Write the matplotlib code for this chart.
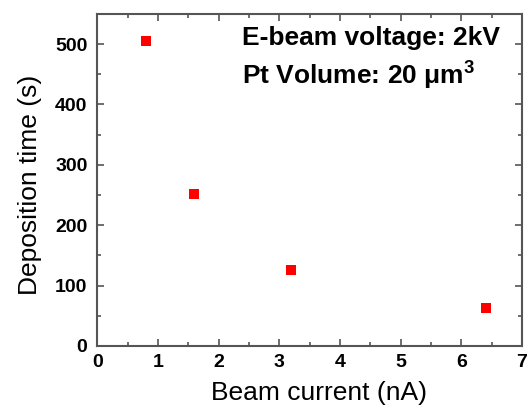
import matplotlib
matplotlib.use("Agg")
import matplotlib.pyplot as plt
from matplotlib.ticker import MultipleLocator

beam_current = [0.8, 1.6, 3.2, 6.4]
deposition_time = [505, 252, 126, 63]

plt.rcParams["font.family"] = ["Liberation Sans", "DejaVu Sans"]
plt.rcParams["mathtext.fontset"] = "custom"
plt.rcParams["mathtext.rm"] = "Liberation Sans"
plt.rcParams["mathtext.bf"] = "Liberation Sans:bold"

fig = plt.figure(figsize=(5.31, 4.08), dpi=100)
ax = fig.add_axes([0.183, 0.152, 0.800, 0.814])

ax.plot(beam_current, deposition_time, "s", color="#ff0000", markersize=7, markeredgewidth=0)

ax.set_xlim(0, 7)
ax.set_ylim(0, 550)
ax.xaxis.set_major_locator(MultipleLocator(1))
ax.xaxis.set_minor_locator(MultipleLocator(0.5))
ax.yaxis.set_major_locator(MultipleLocator(100))
ax.yaxis.set_minor_locator(MultipleLocator(50))
ax.tick_params(which="both", direction="in", top=True, right=True, width=1.2, color="#555555")
ax.tick_params(which="major", length=5, labelsize=14)
ax.tick_params(axis="y", which="major", pad=7)
ax.tick_params(axis="x", which="major", pad=6)
ax.tick_params(which="minor", length=3)
for lab in ax.get_xticklabels() + ax.get_yticklabels():
    lab.set_fontweight("bold")
for sp in ax.spines.values():
    sp.set_linewidth(1.5)
    sp.set_color("#555555")

ax.set_xlabel("Beam current (nA)", fontsize=19)
ax.set_ylabel("Deposition time (s)", fontsize=19)
ax.xaxis.set_label_coords(0.523, -0.105)
ax.yaxis.set_label_coords(-0.13, 0.485)

ax.text(0.34, 0.928, "E-beam voltage: 2kV", transform=ax.transAxes, ha="left", va="center",
        fontsize=19, fontweight="bold")
ax.text(0.34, 0.816, "Pt Volume: 20 \u03bcm$^\\mathbf{3}$", transform=ax.transAxes,
        ha="left", va="center", fontsize=19, fontweight="bold")

fig.savefig("out.png", dpi=100)
